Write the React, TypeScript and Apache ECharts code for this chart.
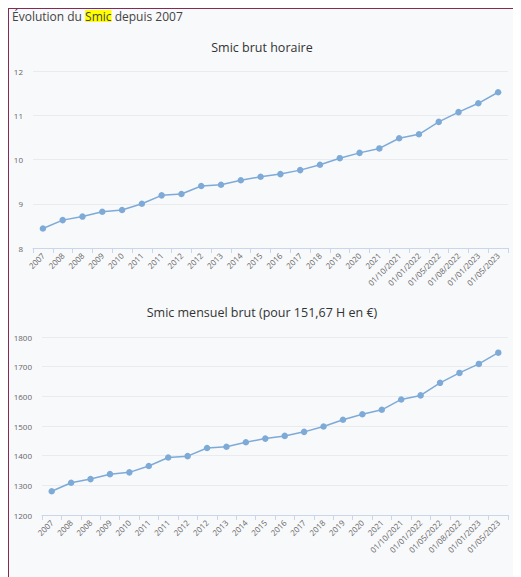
import React, { useEffect, useRef } from "react";
import * as echarts from "echarts";

const categories = [
  "2007", "2008", "2008", "2009", "2010", "2011", "2011", "2012", "2012", "2013",
  "2014", "2015", "2016", "2017", "2018", "2019", "2020", "2021",
  "01/10/2021", "01/01/2022", "01/05/2022", "01/08/2022", "01/01/2023", "01/05/2023",
];

const hourly = [
  8.44, 8.63, 8.71, 8.82, 8.86, 9.0, 9.19, 9.22, 9.4, 9.43,
  9.53, 9.61, 9.67, 9.76, 9.88, 10.03, 10.15, 10.25,
  10.48, 10.57, 10.85, 11.07, 11.27, 11.52,
];

const monthly = [
  1280.07, 1308.88, 1321.02, 1337.7, 1343.77, 1365.0, 1393.82, 1398.37, 1425.67, 1430.22,
  1445.38, 1457.52, 1466.62, 1480.27, 1498.47, 1521.22, 1539.42, 1554.58,
  1589.47, 1603.12, 1645.58, 1678.95, 1709.28, 1747.2,
];

const pageTitle = "Évolution du {h|Smic} depuis 2007";
const title1 = "Smic brut horaire";
const title2 = "Smic mensuel brut (pour 151,67 H en €)";

const FONT = "'Open Sans', 'Noto Sans', sans-serif";
const LINE = "#7eaad8";

export default function App() {
  const ref = useRef<HTMLDivElement>(null);
  useEffect(() => {
    if (!ref.current) return;
    const chart = echarts.init(ref.current, undefined, { renderer: "svg" });
    const xAxisBase = (gridIndex: number) => ({
      type: "category" as const,
      gridIndex,
      data: categories,
      boundaryGap: true,
      axisLine: { lineStyle: { color: "#ccd6eb", width: 1 } },
      axisTick: { show: true, length: 5, lineStyle: { color: "#ccd6eb" } },
      axisLabel: {
        rotate: 45,
        interval: 0,
        fontSize: 8,
        color: "#666666",
        fontFamily: FONT,
        margin: 6,
      },
    });
    const yAxisBase = (gridIndex: number, min: number, max: number, interval: number) => ({
      type: "value" as const,
      gridIndex,
      min,
      max,
      interval,
      axisLine: { show: false },
      axisTick: { show: false },
      splitLine: { lineStyle: { color: "#e9ebee", width: 1 } },
      axisLabel: {
        fontSize: 8,
        color: "#666666",
        fontFamily: FONT,
        margin: 10,
        formatter: (v: number) => String(v),
      },
    });
    const seriesBase = {
      type: "line" as const,
      symbol: "circle",
      symbolSize: 6.5,
      lineStyle: { color: LINE, width: 1.5 },
      itemStyle: { color: LINE },
    };
    chart.setOption({
      animation: false,
      backgroundColor: "#f8f9fb",
      graphic: [
        {
          type: "text",
          left: 3,
          top: 1,
          style: {
            text: pageTitle,
            font: `12px ${FONT}`,
            fill: "#444444",
            rich: {
              h: { backgroundColor: "#ffff00", fontSize: 12, fontFamily: FONT, fill: "#444444", color: "#444444" },
            },
          },
        },
      ],
      title: [
        {
          text: title1,
          left: "center",
          top: 27,
          textStyle: { fontSize: 12.5, fontWeight: "normal", color: "#333333", fontFamily: FONT },
        },
        {
          text: title2,
          left: "center",
          top: 292,
          textStyle: { fontSize: 12.5, fontWeight: "normal", color: "#333333", fontFamily: FONT },
        },
      ],
      grid: [
        { left: 24, right: 7, top: 62, height: 177 },
        { left: 33, right: 7, top: 328, height: 178 },
      ],
      xAxis: [xAxisBase(0), xAxisBase(1)],
      yAxis: [yAxisBase(0, 8, 12, 1), yAxisBase(1, 1200, 1800, 100)],
      series: [
        { ...seriesBase, xAxisIndex: 0, yAxisIndex: 0, data: hourly },
        { ...seriesBase, xAxisIndex: 1, yAxisIndex: 1, data: monthly },
      ],
    });
    return () => chart.dispose();
  }, []);
  return (
    <div
      style={{
        width: 506,
        height: 569,
        border: "1px solid #862a55",
        borderBottom: "none",
        background: "#f8f9fb",
      }}
    >
      <div ref={ref} style={{ width: 506, height: 569 }} />
    </div>
  );
}
